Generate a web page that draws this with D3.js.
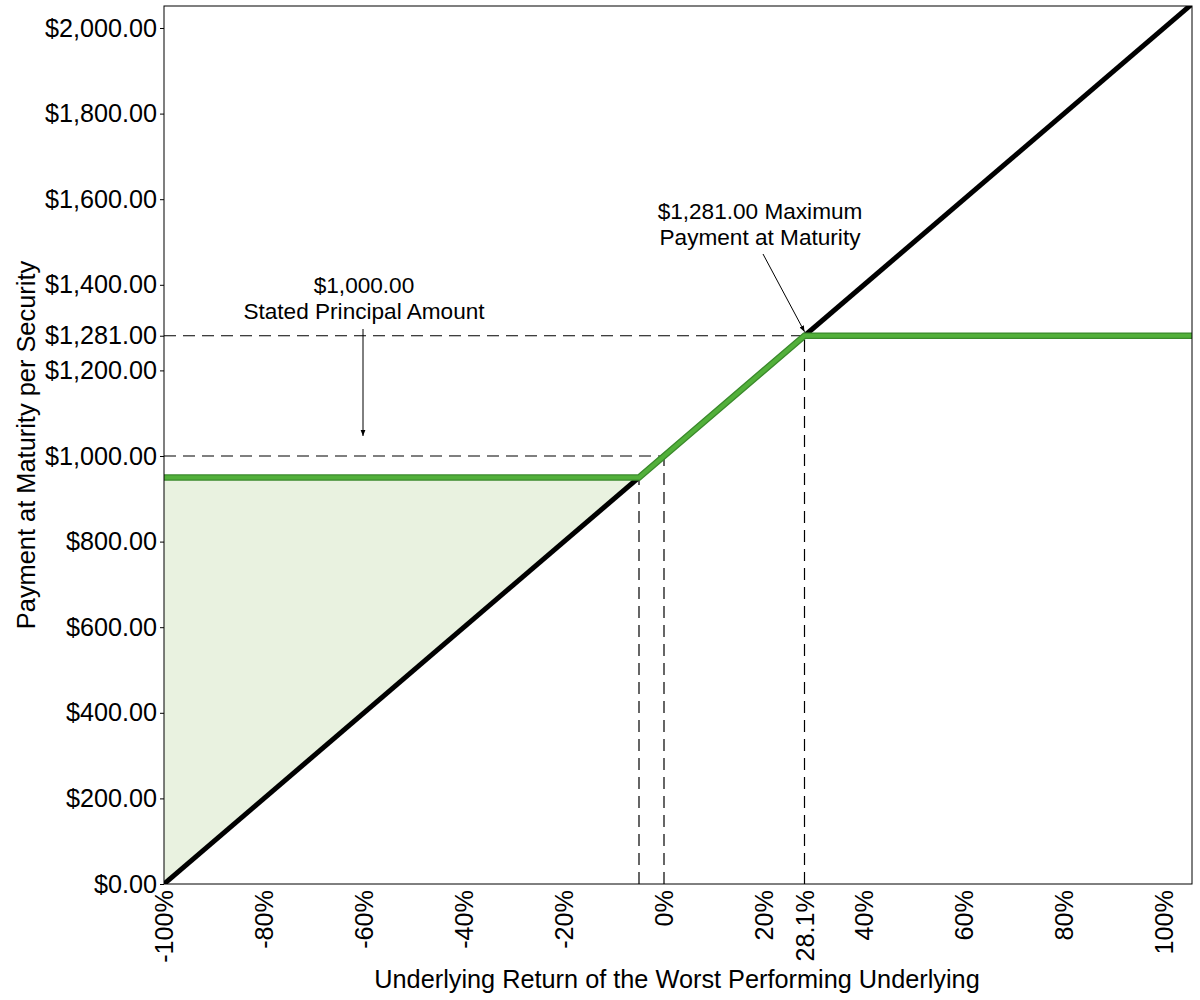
<!DOCTYPE html>
<html><head><meta charset="utf-8">
<script src="https://cdn.jsdelivr.net/npm/d3@7"></script>
<style>body{margin:0;background:#fff;} text{font-family:"Liberation Sans",Arial,sans-serif;fill:#000;}</style>
</head><body><svg id="c" width="1200" height="1000"></svg>
<script>
const xTicks = [-100, -80, -60, -40, -20, 0, 20, 28.1, 40, 60, 80, 100];
const yTicks = [0, 200, 400, 600, 800, 1000, 1200, 1281, 1400, 1600, 1800, 2000];
const blackReturns = [-100, 105.6];
const blackPayments = [0, 2056];
const greenReturns = [-100, -5, 28.1, 105.6];
const greenPayments = [950, 950, 1281, 1281];
const shadeReturns = [-100, -5];
const shadeFloor = [950, 950];
const shadeLower = [0, 950];
const principal = 1000, maxPay = 1281, capReturn = 28.1, floorReturn = -5;

const svg = d3.select("#c");
const L = 164, R = 1192, T = 6, B = 884;
const x = d3.scaleLinear().domain([-100, 105.6]).range([L, R]);
const y = d3.scaleLinear().domain([0, 2051.4]).range([B, T]);
const FF = "Liberation Sans, Arial, sans-serif";

// shaded area
const shade = shadeReturns.map((r, i) => ({r, hi: shadeFloor[i], lo: shadeLower[i]}));
svg.append("path").datum(shade)
  .attr("d", d3.area().x(d => x(d.r)).y0(d => y(d.lo)).y1(d => y(d.hi)))
  .attr("fill", "#e9f2e0");

// dashed guides
const dash = "12,7";
const guides = [
  [[-100, principal], [0, principal]],
  [[-100, maxPay], [capReturn, maxPay]],
  [[floorReturn, 0], [floorReturn, 950]],
  [[0, 0], [0, principal]],
  [[capReturn, 0], [capReturn, maxPay]]
];
guides.forEach(g => svg.append("line")
  .attr("x1", x(g[0][0])).attr("y1", y(g[0][1]))
  .attr("x2", x(g[1][0])).attr("y2", y(g[1][1]))
  .attr("stroke", "#000").attr("stroke-width", 1.2).attr("stroke-dasharray", dash));

// clip
svg.append("clipPath").attr("id", "clip").append("rect")
  .attr("x", L).attr("y", T).attr("width", R - L).attr("height", B - T);

const line = d3.line().x(d => x(d[0])).y(d => y(d[1]));
svg.append("path").datum(blackReturns.map((r, i) => [r, blackPayments[i]]))
  .attr("d", line).attr("fill", "none").attr("stroke", "#000").attr("stroke-width", 5)
  .attr("clip-path", "url(#clip)");
const gData = greenReturns.map((r, i) => [r, greenPayments[i]]);
svg.append("path").datum(gData)
  .attr("d", line).attr("fill", "none").attr("stroke", "#3b8a2c").attr("stroke-width", 6.5)
  .attr("clip-path", "url(#clip)");
svg.append("path").datum(gData)
  .attr("d", line).attr("fill", "none").attr("stroke", "#52b03a").attr("stroke-width", 4)
  .attr("clip-path", "url(#clip)");

// frame
svg.append("rect").attr("x", L).attr("y", T).attr("width", R - L).attr("height", B - T)
  .attr("fill", "none").attr("stroke", "#000").attr("stroke-width", 1);

// y axis
const fmt = d3.format("$,.2f");
const yAxis = svg.append("g").attr("transform", `translate(${L},0)`)
  .call(d3.axisLeft(y).tickValues(yTicks).tickSize(4).tickPadding(3).tickFormat(fmt));
yAxis.select(".domain").remove();
yAxis.selectAll("text").style("font-size", "25.2px").style("font-family", FF);

// x axis labels
const xAxis = svg.append("g").attr("transform", `translate(0,${B})`)
  .call(d3.axisBottom(x).tickValues(xTicks).tickSize(0).tickFormat(d => d + "%"));
xAxis.select(".domain").remove();
xAxis.selectAll("text")
  .attr("transform", "rotate(-90)").attr("text-anchor", "end")
  .attr("x", -6).attr("y", 0).attr("dy", "0.35em")
  .style("font-size", "25.2px").style("font-family", FF);

// titles
svg.append("text").attr("x", 677).attr("y", 988).attr("text-anchor", "middle")
  .style("font-size", "25.3px").text("Underlying Return of the Worst Performing Underlying");
svg.append("text").attr("transform", `translate(35,445) rotate(-90)`).attr("text-anchor", "middle")
  .style("font-size", "25.4px").text("Payment at Maturity per Security");

// annotations
const defs = svg.append("defs");
defs.append("marker").attr("id", "arr").attr("viewBox", "0 0 10 10").attr("refX", 10).attr("refY", 5)
  .attr("markerWidth", 6).attr("markerHeight", 6).attr("orient", "auto")
  .append("path").attr("d", "M0,1 L10,5 L0,9 Z").attr("fill", "#000");

svg.append("text").attr("x", 364).attr("y", 293).attr("text-anchor", "middle").style("font-size", "22.6px").text("$1,000.00");
svg.append("text").attr("x", 364).attr("y", 319).attr("text-anchor", "middle").style("font-size", "22.6px").text("Stated Principal Amount");
svg.append("line").attr("x1", 363).attr("y1", 329).attr("x2", 363).attr("y2", 436)
  .attr("stroke", "#000").attr("stroke-width", 1).attr("marker-end", "url(#arr)");

svg.append("text").attr("x", 760).attr("y", 219).attr("text-anchor", "middle").style("font-size", "22.6px").text("$1,281.00 Maximum");
svg.append("text").attr("x", 760).attr("y", 245).attr("text-anchor", "middle").style("font-size", "22.6px").text("Payment at Maturity");
svg.append("line").attr("x1", 763).attr("y1", 254).attr("x2", x(capReturn)).attr("y2", y(maxPay) - 4)
  .attr("stroke", "#000").attr("stroke-width", 1).attr("marker-end", "url(#arr)");
</script></body></html>
